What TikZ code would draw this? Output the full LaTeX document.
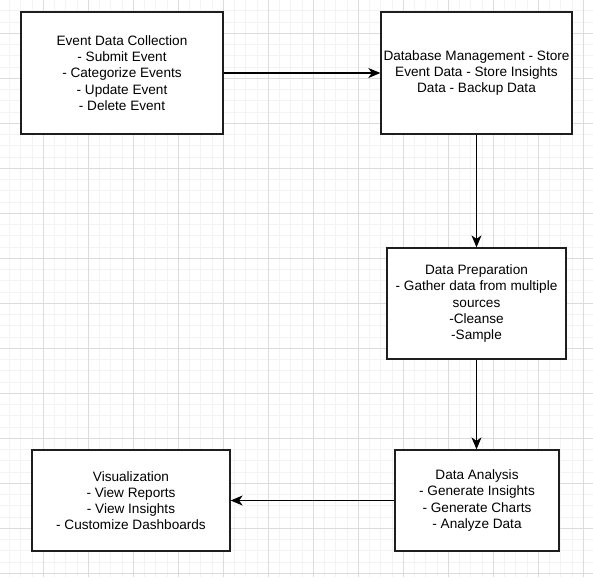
\documentclass[tikz,border=0pt]{standalone}
\usepackage{fontspec}
\setmainfont{Liberation Sans}
\usetikzlibrary{arrows.meta}

\definecolor{minorgrid}{RGB}{243,243,243}
\definecolor{majorgrid}{RGB}{220,220,220}
\definecolor{boxline}{RGB}{30,30,30}

\tikzset{
  box/.style={draw=boxline, line width=1.3pt, fill=white, align=center,
    font=\fontsize{13.6pt}{16.2pt}\selectfont, inner sep=0pt},
  flow/.style={draw=black, line width=1.1pt, -{Stealth[length=12pt,width=10pt,inset=3.5pt]}},
  minorline/.style={draw=minorgrid, line width=0.8pt},
  majorline/.style={draw=majorgrid, line width=1pt}
}

\begin{document}
\begin{tikzpicture}[x=1pt,y=-1pt]
			\useasboundingbox (0,0) rectangle (593,577);
			\fill[white] (0,0) rectangle (593,577);
			\begin{scope}
			\clip (0,0) rectangle (593,577);
			% background grid
			\foreach \i in {0,...,53} {
				\draw[minorline] (-1.7+\i*11.25,0) -- (-1.7+\i*11.25,577);
				\draw[minorline] (0,-11.7+\i*11.25) -- (593,-11.7+\i*11.25);
			}
			\foreach \i in {0,...,14} {
				\draw[majorline] (-1.7+\i*45,0) -- (-1.7+\i*45,577);
				\draw[majorline] (0,-11.7+\i*45) -- (593,-11.7+\i*45);
			}
			\end{scope}
			% boxes
			\node[box, minimum width=202pt, minimum height=122pt] (collect) at (122,73)
				{Event Data Collection\\- Submit Event\\- Categorize Events\\- Update Event\\- Delete Event};
			\node[box, minimum width=191pt, minimum height=122pt] (dbase) at (476.5,73)
				{Database Management - Store\\Event Data - Store Insights\\Data - Backup Data};
			\node[box, minimum width=179pt, minimum height=111pt] (prep) at (476.5,303.5)
				{Data Preparation\\- Gather data from multiple\\sources\\-Cleanse\\-Sample};
			\node[box, minimum width=164pt, minimum height=101pt] (analysis) at (477,500.5)
				{Data Analysis\\- Generate Insights\\- Generate Charts\\- Analyze Data};
			\node[box, minimum width=198pt, minimum height=101pt] (visual) at (131,500.5)
				{Visualization\\- View Reports\\- View Insights\\- Customize Dashboards};
			% connectors
			\draw[flow] (collect) -- (dbase);
			\draw[flow] (dbase) -- (prep);
			\draw[flow] (prep.south) -- (prep.south |- analysis.north);
			\draw[flow] (analysis.west) -- (analysis.west -| visual.east);
\end{tikzpicture}
\end{document}
